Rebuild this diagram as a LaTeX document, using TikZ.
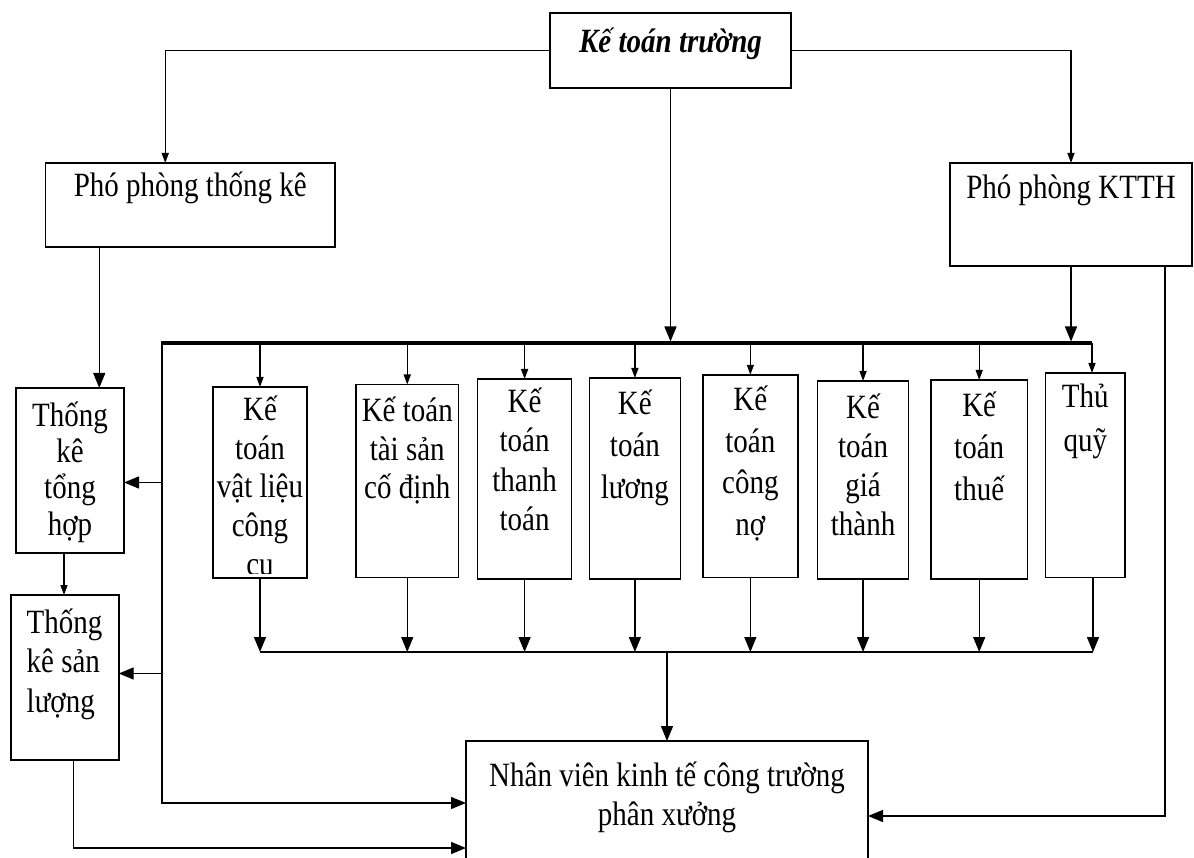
\documentclass[tikz,border=0pt]{standalone}
\usepackage{fontspec}
\setmainfont{Liberation Serif}[FakeStretch=0.853]
\usetikzlibrary{arrows.meta,calc}

% #1 width, #2 height, #3 first baseline from top, #4 baselineskip, #5 text
\newcommand{\boxtext}[5]{\begin{minipage}[t][#2][t]{#1}\centering\fontsize{34}{#4}\selectfont\rule{0pt}{#3}#5\end{minipage}}
% same, flush left with an indent #5
\newcommand{\boxtextleft}[6]{\begin{minipage}[t][#2][t]{#1}\raggedright\leftskip=#5\fontsize{34}{#4}\selectfont\rule{0pt}{#3}#6\end{minipage}}

\tikzset{
  box/.style={draw, line width=1.6pt, inner sep=0pt, outer sep=0pt, anchor=north west},
  ln/.style={line width=1.4pt},
  big/.style={ln, -{Triangle[length=15pt,width=12pt]}},
  small/.style={ln, -{Triangle[length=10pt,width=7pt]}},
  bus/.style={line width=3.2pt},
}

\begin{document}
\begin{tikzpicture}[x=1pt,y=-1pt]
\clip (0,0) rectangle (1194,858);

% top level
\node[box] (top) at (550,13) {\boxtext{241pt}{75pt}{40pt}{38pt}{\textbf{\textit{Kế toán trường}}}};

% deputies
\node[box] (pptk) at (45.5,163) {\boxtext{289.5pt}{84pt}{34pt}{38pt}{Phó phòng thống kê}};
\node[box] (ktth) at (950,163) {\boxtext{242pt}{103pt}{36pt}{38pt}{Phó phòng KTTH}};

% statistics column
\node[box] (tkth) at (16,388) {\boxtext{108pt}{165pt}{38pt}{36.5pt}{Thống\\kê\\tổng\\hợp}};
\node[box] (tksl) at (10.7,595) {\boxtextleft{108pt}{165pt}{38pt}{39.5pt}{16pt}{Thống\\kê sản\\lượng}};

% accountants
\node[box, minimum width=94pt, minimum height=191pt, path picture={
    \clip ([yshift=5pt]path picture bounding box.south west) rectangle (path picture bounding box.north east);
    \node[anchor=north, inner sep=0pt, outer sep=0pt] at (path picture bounding box.north)
      {\boxtext{94pt}{191pt}{33.5pt}{38.7pt}{Kế\\toán\\vật liệu\\công\\cụ}};
  }] (c1) at (213,387) {};
\node[box] (c2) at (356,384.5) {\boxtext{102.5pt}{193pt}{37pt}{38.5pt}{Kế toán\\tài sản\\cố định}};
\node[box] (c3) at (477.6,379) {\boxtext{94pt}{200pt}{33.5pt}{39.5pt}{Kế\\toán\\thanh\\toán}};
\node[box] (c4) at (589.4,378) {\boxtext{91pt}{201pt}{36.5pt}{42pt}{Kế\\toán\\lương}};
\node[box] (c5) at (702.7,374.8) {\boxtext{95.3pt}{202.7pt}{36pt}{41.5pt}{Kế\\toán\\công\\nợ}};
\node[box] (c6) at (817.5,381) {\boxtext{91.1pt}{198pt}{37pt}{39pt}{Kế\\toán\\giá\\thành}};
\node[box] (c7) at (930.8,380) {\boxtext{96.8pt}{199pt}{36.5pt}{42pt}{Kế\\toán\\thuế}};
\node[box] (c8) at (1045.6,373) {\boxtext{79.4pt}{204.5pt}{34pt}{44pt}{Thủ\\quỹ}};

% site staff
\node[box] (nv) at (466,741) {\boxtext{402pt}{140pt}{45pt}{39pt}{Nhân viên kinh tế công trường\\phân xưởng}};

% bus lines
\coordinate (busL) at (161,343);
\coordinate (busR) at (1092,343);
\coordinate (lbL) at (260,652);
\coordinate (lbR) at (1093,652);
\draw[bus] (busL) -- (busR);
\draw[ln] (lbL) -- (lbR);

% from the chief accountant
\draw[small] (top.west) -| ([xshift=-25pt]pptk.north);
\draw[small] (top.east) -| (ktth.north);
\draw[big, shorten >=1.5pt] (top.south) -- (top.south |- busL);
\draw[big, shorten >=1.5pt] (ktth.south) -- (ktth.south |- busL);

% bus to accountants and back to the lower bus
\foreach \c in {c1,c2,c3,c4,c5,c6,c7}{
  \draw[small] (\c.north |- busL) -- (\c.north);
  \draw[big] (\c.south) -- (\c.south |- lbL);
}
\draw[small] (busR) -- (busR |- c8.north);
\draw[big] (lbR |- c8.south) -- (lbR);
\draw[big] (nv.north |- lbL) -- (nv.north);

% statistics branch
\draw[big] ([xshift=-91pt]pptk.south) -- ([xshift=-91pt]pptk.south |- tkth.north);
\draw[small] ([xshift=-6pt]tkth.south) -- ([xshift=-6pt]tkth.south |- tksl.north);
\draw[big] ([xshift=1pt]busL) |- ([yshift=8pt]nv.west);
\draw[big] ([yshift=-12pt]tkth.east -| busL) -- ([yshift=-12pt]tkth.east);
\draw[big] ([yshift=4pt]tksl.east -| busL) -- ([yshift=4pt]tksl.east);
\draw[big] ([xshift=9pt]tksl.south) |- ([yshift=-37pt]nv.west);

% deputy (general accounting) to site staff
\draw[big] ([xshift=94pt]ktth.south) |- ([yshift=-5pt]nv.east);
\end{tikzpicture}
\end{document}
